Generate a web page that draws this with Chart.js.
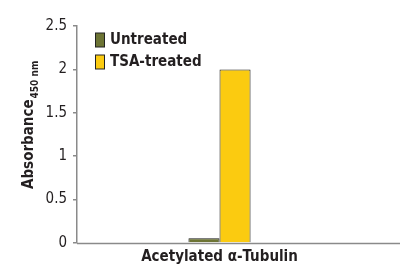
<!DOCTYPE html>
<html><head><meta charset="utf-8">
<script src="https://cdn.jsdelivr.net/npm/chart.js@4.4.1/dist/chart.umd.min.js"></script>
<style>html,body{margin:0;padding:0;background:#fff}#wrap{width:401px;height:275px}</style>
</head><body><div id="wrap"><canvas id="c" width="401" height="275"></canvas></div>
<script>
const categories = ['Acetylated \u03b1-Tubulin'];
const seriesNames = ['Untreated', 'TSA-treated'];
const untreated = [0.055];
const tsaTreated = [2.0];
const yTicks = [0, 0.5, 1, 1.5, 2, 2.5];
const yTitle = 'Absorbance';
const yTitleSub = '450 nm';

const FONT = "'DejaVu Sans Condensed', 'Liberation Sans', Arial, sans-serif";
const colors = ['#6d7434', '#fbcb10'];

const extras = {
  id: 'extras',
  afterDraw(chart) {
    const ctx = chart.ctx, a = chart.chartArea;
    ctx.save();
    ctx.strokeStyle = '#8a8a8a'; ctx.lineWidth = 1.5;
    ctx.beginPath(); ctx.moveTo(a.left, a.bottom + 0.5); ctx.lineTo(400, a.bottom + 0.5); ctx.stroke();
    ctx.font = 'bold 15px ' + FONT; ctx.textBaseline = 'middle'; ctx.textAlign = 'left';
    chart.data.datasets.forEach((ds, i) => {
      const y = 40 + i * 22;
      ctx.fillStyle = ds.backgroundColor; ctx.fillRect(95.5, y - 7, 9, 14);
      ctx.strokeStyle = '#222'; ctx.lineWidth = 1; ctx.strokeRect(95.5, y - 7, 9, 14);
      ctx.fillStyle = '#231f20'; ctx.fillText(ds.label, 110, y + 0.5);
    });
    ctx.translate(33, 189); ctx.rotate(-Math.PI / 2);
    ctx.textBaseline = 'alphabetic';
    ctx.font = 'bold 15px ' + FONT; ctx.fillStyle = '#231f20';
    ctx.fillText(yTitle, 0, 0);
    const w = ctx.measureText(yTitle).width;
    ctx.font = 'bold 10px ' + FONT;
    ctx.fillText(yTitleSub, w + 1, 5);
    ctx.restore();
  }
};

new Chart(document.getElementById('c'), {
  type: 'bar',
  data: {
    labels: categories,
    datasets: [
      { label: seriesNames[0], data: untreated, backgroundColor: colors[0], borderColor: '#1a1a1a', borderWidth: 1 },
      { label: seriesNames[1], data: tsaTreated, backgroundColor: colors[1], borderColor: '#1a1a1a', borderWidth: 1 }
    ]
  },
  options: {
    responsive: false, animation: false,
    layout: { padding: { left: 37, right: 39, top: 26, bottom: 0 } },
    plugins: { legend: { display: false }, tooltip: { enabled: false } },
    datasets: { bar: { categoryPercentage: 0.218, barPercentage: 1 } },
    scales: {
      x: {
        grid: { display: false, drawTicks: false },
        border: { display: false },
        ticks: { color: '#231f20', font: { family: FONT, size: 15, weight: 'bold' }, padding: 5 },
        afterFit(s) { s.height = 32; }
      },
      y: {
        min: 0, max: 2.5,
        afterBuildTicks(s) { s.ticks = yTicks.map(v => ({ value: v })); },
        grid: { drawOnChartArea: false, drawTicks: true, tickLength: 4, color: '#8a8a8a', lineWidth: 1.5 },
        border: { color: '#8a8a8a', width: 1.5 },
        ticks: { color: '#231f20', font: { family: FONT, size: 15 }, padding: 6, callback: v => String(v) },
        afterFit(s) { s.width = 40; }
      }
    }
  },
  plugins: [extras]
});
</script></body></html>
